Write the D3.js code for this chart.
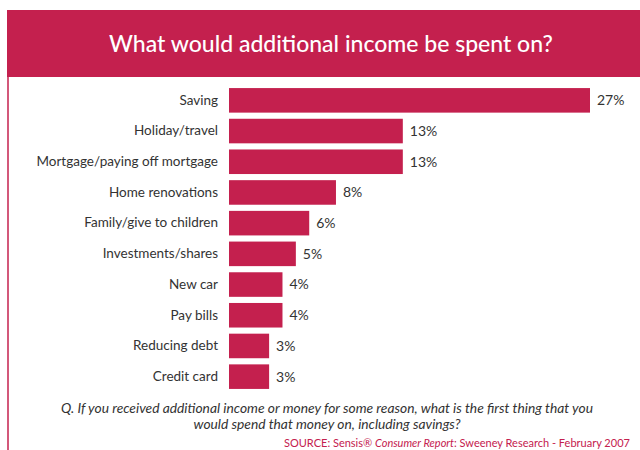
<!DOCTYPE html>
<html>
<head>
<meta charset="utf-8">
<script src="https://cdn.jsdelivr.net/npm/d3@7"></script>
<style>
  html, body { margin: 0; padding: 0; background: #fff; }
  svg { display: block; }
</style>
</head>
<body>
<svg id="chart" width="640" height="450"></svg>
<script>
// Survey responses: first use of additional income (% of respondents)
const categories = [
  "Saving",
  "Holiday/travel",
  "Mortgage/paying off mortgage",
  "Home renovations",
  "Family/give to children",
  "Investments/shares",
  "New car",
  "Pay bills",
  "Reducing debt",
  "Credit card"
];
const values = [27, 13, 13, 8, 6, 5, 4, 4, 3, 3];
const valueLabels = values.map(v => v + "%");

const titleText = "What would additional income be spent on?";
const questionLines = [
  "Q. If you received additional income or money for some reason, what is the first thing that you",
  "would spend that money on, including savings?"
];

const crimson = "#C4204E";
const textColor = "#333333";
const fontFamily = "Lato, 'Open Sans', sans-serif";

const svg = d3.select("#chart");

// Header band and left frame line
svg.append("rect")
  .attr("x", 7).attr("y", 10)
  .attr("width", 640 - 7).attr("height", 67)
  .attr("fill", crimson);
svg.append("line")
  .attr("x1", 8).attr("x2", 8)
  .attr("y1", 77).attr("y2", 450)
  .attr("stroke", crimson).attr("stroke-width", 1.5);

svg.append("text")
  .attr("x", 331).attr("y", 52)
  .attr("text-anchor", "middle")
  .attr("fill", "#fff")
  .attr("font-family", fontFamily)
  .attr("font-size", 23)
  .attr("font-weight", 500)
  .text(titleText);

// Scales
const x = d3.scaleLinear().domain([0, 27]).range([229, 590]);
const y = d3.scaleBand()
  .domain(categories)
  .range([85, 392])
  .paddingInner(0.2)
  .paddingOuter(0.1);

const g = svg.append("g");

g.selectAll("rect.bar")
  .data(categories)
  .join("rect")
  .attr("class", "bar")
  .attr("x", x(0))
  .attr("y", d => y(d))
  .attr("width", (d, i) => x(values[i]) - x(0))
  .attr("height", y.bandwidth())
  .attr("fill", crimson);

// Category axis on the left, no domain line or ticks
const yAxis = d3.axisLeft(y).tickSize(0).tickPadding(11);
const axisG = svg.append("g")
  .attr("transform", `translate(${x(0)},0)`)
  .call(yAxis);
axisG.select(".domain").remove();
axisG.selectAll("text")
  .attr("fill", textColor)
  .attr("font-family", fontFamily)
  .attr("font-size", 13.5);

// Value labels at the end of each bar
g.selectAll("text.val")
  .data(categories)
  .join("text")
  .attr("class", "val")
  .attr("x", (d, i) => x(values[i]) + 7)
  .attr("y", d => y(d) + y.bandwidth() / 2)
  .attr("dy", "0.35em")
  .attr("fill", textColor)
  .attr("font-family", fontFamily)
  .attr("font-size", 14)
  .text((d, i) => valueLabels[i]);

// Question footnote
svg.selectAll("text.q")
  .data(questionLines)
  .join("text")
  .attr("class", "q")
  .attr("x", 327)
  .attr("y", (d, i) => 413 + i * 16)
  .attr("text-anchor", "middle")
  .attr("fill", textColor)
  .attr("font-family", fontFamily)
  .attr("font-style", "italic")
  .attr("font-size", 13.8)
  .text(d => d);

// Source line
const src = svg.append("text")
  .attr("x", 284).attr("y", 447)
  .attr("fill", crimson)
  .attr("font-family", fontFamily)
  .attr("font-size", 11);
src.append("tspan").text("SOURCE: Sensis® ");
src.append("tspan").attr("font-style", "italic").text("Consumer Report");
src.append("tspan").text(": Sweeney Research - February 2007");
</script>
</body>
</html>
